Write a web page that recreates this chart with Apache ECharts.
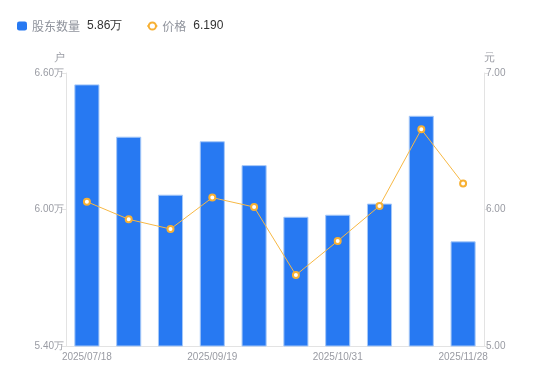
<!DOCTYPE html>
<html>
<head>
<meta charset="utf-8">
<script src="https://cdn.jsdelivr.net/npm/echarts@6/dist/echarts.min.js"></script>
<style>html,body{margin:0;padding:0;background:#fff;}#c{width:550px;height:381px;}</style>
</head>
<body>
<div id="c"></div>
<script>
var categories = ['2025/07/18','2025/08/08','2025/08/29','2025/09/19','2025/09/30','2025/10/17','2025/10/31','2025/11/10','2025/11/20','2025/11/28'];
var holders = [6.55, 6.32, 6.065, 6.30, 6.195, 5.968, 5.977, 6.026, 6.412, 5.86];
var prices = [6.057, 5.928, 5.857, 6.087, 6.018, 5.52, 5.769, 6.026, 6.587, 6.19];
var leftTicks = {min: 5.4, max: 6.6, interval: 0.6};
var rightTicks = {min: 5.0, max: 7.0, interval: 1.0};
var seriesNames = ['股东数量', '价格'];
var legendValues = {'股东数量': '5.86万', '价格': '6.190'};

var chart = echarts.init(document.getElementById('c'));
chart.setOption({
  animation: false,
  legend: {
    left: 12, top: 15,
    itemGap: 24,
    itemWidth: 10, itemHeight: 9,
    data: [
      {name: seriesNames[0], icon: 'roundRect', itemStyle: {borderWidth: 0, color: '#2779f2'}},
      {name: seriesNames[1]}
    ],
    formatter: function (n) { return '{n|' + n + '}{v|' + legendValues[n] + '}'; },
    textStyle: {
      rich: {
        n: {color: '#8f939c', fontSize: 12, fontFamily: 'Noto Sans CJK SC'},
        v: {color: '#333', fontSize: 12, fontFamily: 'Liberation Sans', padding: [0, 0, 0, 7]}
      }
    }
  },
  grid: {left: 66, right: 66, top: 73, bottom: 35},
  xAxis: {
    type: 'category',
    data: categories,
    axisLine: {lineStyle: {color: '#e3e3e3'}},
    axisTick: {show: false},
    axisLabel: {interval: 2, color: '#999ba3', fontSize: 10, margin: 6, fontFamily: 'Liberation Sans'}
  },
  yAxis: [{
    type: 'value',
    name: '户',
    nameGap: 10,
    nameTextStyle: {color: '#999ba3', fontSize: 11, padding: [0, 14, 0, 0]},
    min: leftTicks.min, max: leftTicks.max, interval: leftTicks.interval,
    axisLine: {show: true, lineStyle: {color: '#e3e3e3'}},
    axisTick: {show: true, length: 4, lineStyle: {color: '#e3e3e3'}},
    splitLine: {show: false},
    axisLabel: {color: '#999ba3', fontSize: 10, margin: 2, fontFamily: 'Liberation Sans',
      formatter: function (v) { return v.toFixed(2) + '万'; }}
  }, {
    type: 'value',
    name: '元',
    nameGap: 10,
    nameTextStyle: {color: '#999ba3', fontSize: 11, padding: [0, 0, 0, 10]},
    min: rightTicks.min, max: rightTicks.max, interval: rightTicks.interval,
    axisLine: {show: true, lineStyle: {color: '#e3e3e3'}},
    axisTick: {show: true, length: 4, lineStyle: {color: '#e3e3e3'}},
    splitLine: {show: false},
    axisLabel: {color: '#999ba3', fontSize: 10, margin: 2, fontFamily: 'Liberation Sans',
      formatter: function (v) { return v.toFixed(2); }}
  }],
  series: [{
    name: seriesNames[0],
    type: 'bar',
    data: holders,
    barWidth: '60%',
    itemStyle: {color: '#2779f2', borderColor: '#a6c8f8', borderWidth: 1}
  }, {
    name: seriesNames[1],
    type: 'line',
    yAxisIndex: 1,
    data: prices,
    symbol: 'circle',
    symbolSize: 6,
    lineStyle: {color: '#f7b844', width: 1},
    itemStyle: {color: '#fff', borderColor: '#f7b033', borderWidth: 2}
  }]
});
</script>
</body>
</html>
